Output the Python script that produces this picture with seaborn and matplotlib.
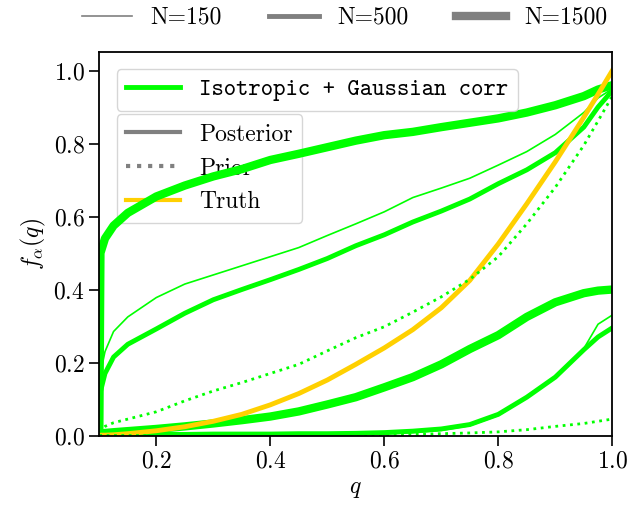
import matplotlib
matplotlib.use('Agg')
import matplotlib.pyplot as plt
import seaborn as sns
from matplotlib.lines import Line2D

# sample points along q
q = [0.1, 0.102, 0.11, 0.125, 0.15, 0.2, 0.25, 0.3, 0.35, 0.4, 0.45, 0.5,
     0.55, 0.6, 0.65, 0.7, 0.75, 0.8, 0.85, 0.9, 0.95, 0.975, 1.0]

# posterior bands, upper / lower, per sample size
n150_upper = [0.0, 0.17, 0.23, 0.285, 0.325, 0.378, 0.415, 0.44, 0.465, 0.49,
              0.515, 0.548, 0.58, 0.613, 0.652, 0.678, 0.705, 0.741, 0.778,
              0.825, 0.885, 0.925, 0.95]
n150_lower = [0.0, 0.0, 0.0, 0.0, 0.0, 0.0, 0.0, 0.0, 0.0, 0.001, 0.001,
              0.002, 0.003, 0.004, 0.008, 0.014, 0.027, 0.055, 0.103, 0.158,
              0.238, 0.305, 0.33]
n500_upper = [0.0, 0.12, 0.17, 0.215, 0.25, 0.292, 0.335, 0.372, 0.40, 0.427,
              0.455, 0.485, 0.52, 0.55, 0.585, 0.615, 0.648, 0.69, 0.728,
              0.775, 0.845, 0.90, 0.945]
n500_lower = [0.0, 0.003, 0.003, 0.003, 0.003, 0.003, 0.003, 0.004, 0.004,
              0.004, 0.005, 0.005, 0.006, 0.008, 0.012, 0.018, 0.03, 0.058,
              0.105, 0.16, 0.235, 0.27, 0.295]
n1500_upper = [0.0, 0.50, 0.54, 0.575, 0.61, 0.655, 0.685, 0.71, 0.73, 0.755,
               0.772, 0.79, 0.808, 0.823, 0.832, 0.845, 0.857, 0.869, 0.885,
               0.905, 0.93, 0.948, 0.96]
n1500_lower = [0.0, 0.005, 0.007, 0.009, 0.012, 0.018, 0.025, 0.033, 0.042,
               0.052, 0.066, 0.085, 0.105, 0.132, 0.160, 0.195, 0.237, 0.275,
               0.325, 0.365, 0.39, 0.397, 0.40]

# prior band
prior_upper = [0.01, 0.015, 0.025, 0.035, 0.045, 0.065, 0.095, 0.122, 0.145,
               0.17, 0.195, 0.232, 0.268, 0.298, 0.338, 0.38, 0.428, 0.49,
               0.58, 0.68, 0.795, 0.862, 0.93]
prior_lower = [0.0, 0.0, 0.0, 0.0, 0.0, 0.0, 0.0, 0.001, 0.001, 0.001, 0.001,
               0.001, 0.002, 0.002, 0.003, 0.005, 0.007, 0.01, 0.016, 0.025,
               0.033, 0.039, 0.045]

# true curve
truth = [0.001, 0.001, 0.001, 0.002, 0.005, 0.013, 0.024, 0.039, 0.058,
         0.084, 0.115, 0.152, 0.195, 0.24, 0.29, 0.35, 0.425, 0.525, 0.635,
         0.75, 0.872, 0.935, 1.0]

sizes = ['N=150', 'N=500', 'N=1500']
widths = [1.2, 3.5, 6.0]

plt.rcParams['font.family'] = 'serif'
plt.rcParams['font.serif'] = ['cmr10']
plt.rcParams['mathtext.fontset'] = 'cm'
plt.rcParams['axes.formatter.use_mathtext'] = True
plt.rcParams['font.size'] = 17

GREEN = 'lime'
GOLD = '#FFD000'

fig = plt.figure(figsize=(6.39, 5.08), dpi=100)
ax = fig.add_axes([0.1554, 0.1427, 0.8028, 0.7543])

bands = [(n150_upper, n150_lower), (n500_upper, n500_lower),
         (n1500_upper, n1500_lower)]
for (up, lo), lw in zip(bands, widths):
    sns.lineplot(x=q, y=up, ax=ax, color=GREEN, linewidth=lw,
                 estimator=None, sort=False)
    sns.lineplot(x=q, y=lo, ax=ax, color=GREEN, linewidth=lw,
                 estimator=None, sort=False)

sns.lineplot(x=q, y=truth, ax=ax, color=GOLD, linewidth=3.5,
             estimator=None, sort=False)
sns.lineplot(x=q, y=prior_upper, ax=ax, color=GREEN, linewidth=2,
             linestyle=':', estimator=None, sort=False)
sns.lineplot(x=q, y=prior_lower, ax=ax, color=GREEN, linewidth=2,
             linestyle=':', estimator=None, sort=False)

ax.set_xlim(0.1, 1.0)
ax.set_ylim(0, 1.05)
ax.set_xticks([0.2, 0.4, 0.6, 0.8, 1.0])
ax.set_yticks([0.0, 0.2, 0.4, 0.6, 0.8, 1.0])
ax.tick_params(length=7, width=1.2)
for s in ax.spines.values():
    s.set_linewidth(1.3)
ax.set_xlabel(r'$q$')
ax.set_ylabel(r'$f_\alpha(q)$')

# legends
leg1 = ax.legend([Line2D([], [], color=GREEN, lw=3.5)],
                 ['Isotropic + Gaussian corr'],
                 loc='upper left', bbox_to_anchor=(0.034, 0.956),
                 borderaxespad=0, handlelength=2.3,
                 prop={'family': 'cmtt10', 'size': 17})
ax.add_artist(leg1)
leg2 = ax.legend([Line2D([], [], color='gray', lw=3),
                  Line2D([], [], color='gray', lw=3, ls=':'),
                  Line2D([], [], color=GOLD, lw=3)],
                 ['Posterior', 'Prior', 'Truth'],
                 loc='upper left', bbox_to_anchor=(0.034, 0.839),
                 borderaxespad=0, handlelength=2.3, labelspacing=0.5)
leg2.set_zorder(1)  # the posterior curves run over this box

fig.legend([Line2D([], [], color='gray', lw=w) for w in widths], sizes,
           loc='center right', bbox_to_anchor=(0.966, 0.965), ncol=3,
           frameon=False, handlelength=2.1, borderaxespad=0)

fig.savefig('out.png', dpi=100)
